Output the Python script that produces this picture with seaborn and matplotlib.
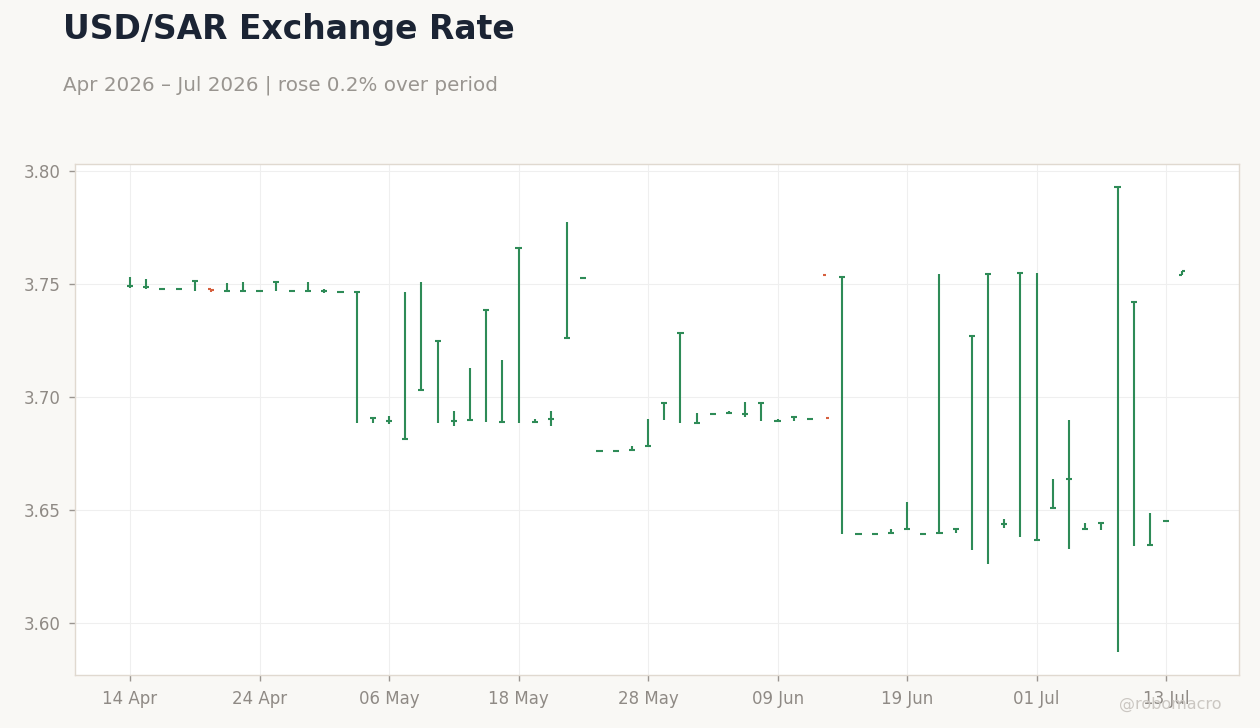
import numpy as np
import pandas as pd
import matplotlib
matplotlib.use("Agg")
import matplotlib.pyplot as plt
import seaborn as sns

# ---- data (business days, weekends skipped) ----
dates = pd.bdate_range("2026-04-14", "2026-07-14")

opens = [3.7490, 3.7484, 3.7477, 3.7477, 3.7512, 3.7474, 3.7467, 3.7467, 3.7468, 3.7508,
         3.7468, 3.7468, 3.7468, 3.7464, 3.7464, 3.6907, 3.6893, 3.6812, 3.7029, 3.7247,
         3.6893, 3.6896, 3.7384, 3.6888, 3.7658, 3.6889, 3.6900, 3.7260, 3.7524, 3.6760,
         3.6760, 3.6765, 3.6782, 3.6970, 3.7282, 3.6883, 3.6924, 3.6928, 3.6922, 3.6973,
         3.6893, 3.6911, 3.6900, 3.7538, 3.7530, 3.6392, 3.6392, 3.6396, 3.6414, 3.6392,
         3.6396, 3.6415, 3.7269, 3.7543, 3.6437, 3.7548, 3.6366, 3.6507, 3.6636, 3.6414,
         3.6442, 3.7926, 3.7419, 3.6343, 3.6450, 3.7539]
highs = [3.7529, 3.7520, 3.7477, 3.7477, 3.7512, 3.7474, 3.7502, 3.7507, 3.7468, 3.7508,
         3.7468, 3.7507, 3.7476, 3.7464, 3.7464, 3.6907, 3.6914, 3.7462, 3.7507, 3.7247,
         3.6936, 3.7126, 3.7384, 3.7161, 3.7658, 3.6901, 3.6936, 3.7772, 3.7524, 3.6760,
         3.6760, 3.6781, 3.6900, 3.6970, 3.7282, 3.6927, 3.6924, 3.6935, 3.6976, 3.6973,
         3.6900, 3.6911, 3.6900, 3.6906, 3.7530, 3.6392, 3.6392, 3.6412, 3.6532, 3.6392,
         3.7542, 3.6415, 3.7269, 3.7543, 3.6458, 3.7548, 3.7546, 3.6635, 3.6896, 3.6440,
         3.6442, 3.7926, 3.7419, 3.6485, 3.6450, 3.7554]
lows = [3.7482, 3.7477, 3.7477, 3.7477, 3.7468, 3.7464, 3.7467, 3.7467, 3.7468, 3.7468,
        3.7468, 3.7468, 3.7459, 3.7464, 3.6884, 3.6884, 3.6878, 3.6812, 3.7029, 3.6884,
        3.6870, 3.6896, 3.6889, 3.6888, 3.6884, 3.6889, 3.6870, 3.7260, 3.7524, 3.6760,
        3.6760, 3.6765, 3.6782, 3.6897, 3.6884, 3.6883, 3.6924, 3.6928, 3.6911, 3.6893,
        3.6893, 3.6893, 3.6900, 3.6906, 3.6392, 3.6392, 3.6392, 3.6396, 3.6414, 3.6392,
        3.6396, 3.6397, 3.6321, 3.6260, 3.6420, 3.6380, 3.6366, 3.6507, 3.6327, 3.6414,
        3.6411, 3.5871, 3.6340, 3.6343, 3.6450, 3.7539]
closes = [3.7490, 3.7484, 3.7477, 3.7477, 3.7512, 3.7471, 3.7467, 3.7467, 3.7468, 3.7508,
          3.7468, 3.7468, 3.7468, 3.7464, 3.7464, 3.6907, 3.6893, 3.6812, 3.7029, 3.7247,
          3.6893, 3.6896, 3.7384, 3.6888, 3.7658, 3.6889, 3.6900, 3.7260, 3.7524, 3.6760,
          3.6760, 3.6765, 3.6782, 3.6970, 3.7282, 3.6883, 3.6924, 3.6928, 3.6922, 3.6973,
          3.6893, 3.6911, 3.6900, 3.6906, 3.7530, 3.6392, 3.6392, 3.6396, 3.6414, 3.6392,
          3.6396, 3.6415, 3.7269, 3.7543, 3.6437, 3.7548, 3.6366, 3.6507, 3.6636, 3.6414,
          3.6442, 3.7926, 3.7419, 3.6343, 3.6450, 3.7554]

tick_dates = ["2026-04-14", "2026-04-24", "2026-05-06", "2026-05-18", "2026-05-28",
              "2026-06-09", "2026-06-19", "2026-07-01", "2026-07-13"]
y_ticks = [3.60, 3.65, 3.70, 3.75, 3.80]

title = "USD/SAR Exchange Rate"
subtitle = "Apr 2026 \u2013 Jul 2026 | rose 0.2% over period"

# ---- style ----
BG = "#f9f8f5"
GREEN = "#2e8b57"
RED = "#d65f3e"
sns.set_theme(style="whitegrid")
plt.rcParams["font.family"] = ["DejaVu Sans"]

df = pd.DataFrame({"date": dates, "open": opens, "high": highs,
                   "low": lows, "close": closes})
df["x"] = np.arange(len(df))
df["color"] = np.where(df["close"] >= df["open"], GREEN, RED)

fig = plt.figure(figsize=(12.6, 7.28), dpi=100, facecolor=BG)
ax = fig.add_axes([0.0595, 0.0728, 0.9238, 0.7019])
ax.set_facecolor("white")

w = 0.19
lw = 1.5
ax.vlines(df["x"], df["low"], df["high"], colors=df["color"], linewidth=lw)
ax.hlines(df["open"], df["x"] - w, df["x"], colors=df["color"], linewidth=lw)
ax.hlines(df["close"], df["x"], df["x"] + w, colors=df["color"], linewidth=lw)

ax.set_xlim(-3.4, 68.5)
ax.set_ylim(3.5768, 3.8029)

pos = [int(np.where(df["date"] == pd.Timestamp(d))[0][0]) for d in tick_dates]
ax.set_xticks(pos)
ax.set_xticklabels([pd.Timestamp(d).strftime("%d %b") for d in tick_dates])
ax.set_yticks(y_ticks)
ax.set_yticklabels([f"{v:.2f}" for v in y_ticks])

ax.grid(True, color="#efefef", linewidth=0.8)
for s in ax.spines.values():
    s.set_color("#e0d9d0")
    s.set_linewidth(1.0)
ax.tick_params(axis="both", which="major", length=4.5, width=1, color="#9a9590",
               labelsize=12, labelcolor="#8f8a85", pad=6, direction="out",
               bottom=True, left=True)

fig.text(0.05, 0.960, title, fontsize=23.8, fontweight="bold", color="#1b2434",
         ha="left", va="center")
fig.text(0.05, 0.883, subtitle, fontsize=14.3, color="#999590",
         ha="left", va="center")
fig.text(0.929, 0.032, "@robomacro", fontsize=11.5, color="#cbc7c2",
         ha="center", va="center")

fig.savefig("out.png", dpi=100, facecolor=BG)
